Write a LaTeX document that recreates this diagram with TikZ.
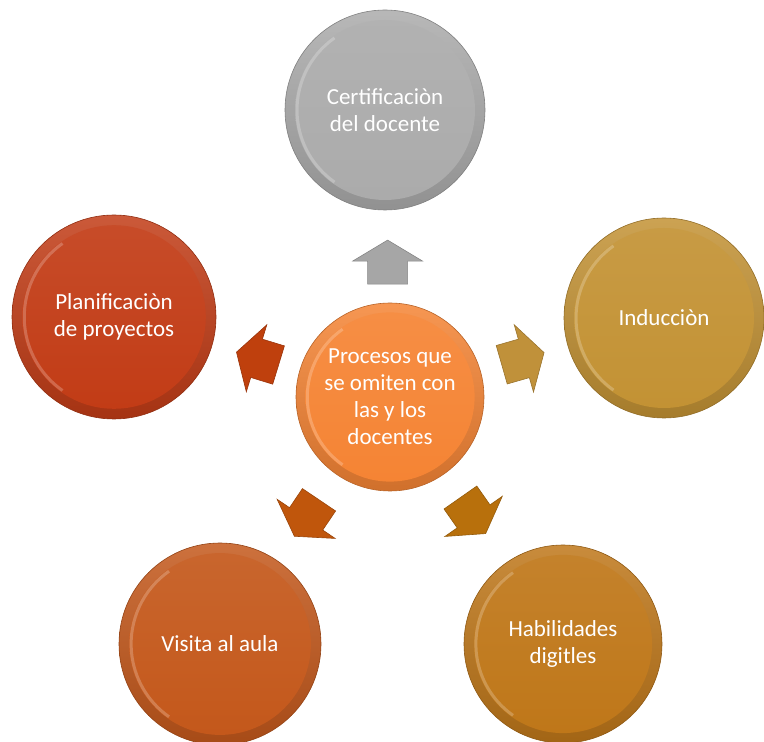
\documentclass[tikz,border=0pt]{standalone}
\usepackage{fontspec}
\setmainfont{Carlito}
\usetikzlibrary{calc}

\definecolor{grauK}{HTML}{ABABAB}
\definecolor{mitteK}{HTML}{F58434}
\definecolor{rotK}{HTML}{C23C16}
\definecolor{goldK}{HTML}{C39234}
\definecolor{blK}{HTML}{C4581B}
\definecolor{brK}{HTML}{BF7719}

\definecolor{grauP}{HTML}{A6A6A6}
\definecolor{rotP}{HTML}{BF400D}
\definecolor{goldP}{HTML}{C0913A}
\definecolor{blP}{HTML}{C0560C}
\definecolor{brP}{HTML}{B8700C}

\tikzset{
kreis/.style={circle, inner sep=0pt, minimum size=200pt, draw=#1!75!black, line width=0.6pt,
  top color=#1!85!white, bottom color=#1!85!black,
  text=white, align=center, font=\fontsize{23}{27}\selectfont,
  path picture={
    \coordinate (m) at (path picture bounding box.center);
    \shade[top color=#1!92!white, bottom color=#1] let \p1=($(path picture bounding box.east)-(m)$) in (m) circle [radius={0.9*\x1}];
    \draw[white, opacity=0.22, line width=3pt] let \p1=($(path picture bounding box.east)-(m)$) in ($(m)+(125:{0.88*\x1})$) arc [start angle=125, end angle=235, radius={0.88*\x1}];
  }}
}

% Blockpfeil: Farbe, Mitte, Winkel
\newcommand\blockpfeil[3]{%
\fill[#1, draw=#1!80!black, line width=0.6pt, shift={#2}, rotate=#3] (22,0) -- (1,35) -- (1,20) -- (-22,20) -- (-22,-20) -- (1,-20) -- (1,-35) -- cycle;}

\begin{document}
\begin{tikzpicture}[x=1pt,y=1pt]
\useasboundingbox (0,0) rectangle (764,742);

%Kreise
\node[kreis=grauK] (cert) at (385,632) {Certificaciòn\\del docente};
\node[kreis=rotK, minimum size=204pt] (plan) at (114,425) {Planificaciòn\\de proyectos};
\node[kreis=goldK] (induc) at (664,424) {Inducciòn};
\node[kreis=blK, minimum size=202pt] (visita) at (220,98) {Visita al aula};
\node[kreis=brK, minimum size=198pt] (habil) at (563,98) {Habilidades\\digitles};

\node[kreis=mitteK, minimum size=188pt] (hub) at (390,345) {Procesos que\\se omiten con\\las y los\\docentes};

%Pfeile
\blockpfeil{grauP}{($(hub)!0.47!(cert)$)}{90}
\blockpfeil{rotP}{($(hub)!0.48!(plan)$)}{163}
\blockpfeil{goldP}{($(hub)!0.485!(induc)$)}{16}
\blockpfeil{blP}{($(hub)!0.49!(visita)$)}{236}
\blockpfeil{brP}{($(hub)!0.48!(habil)$)}{305}

\end{tikzpicture}
\end{document}
